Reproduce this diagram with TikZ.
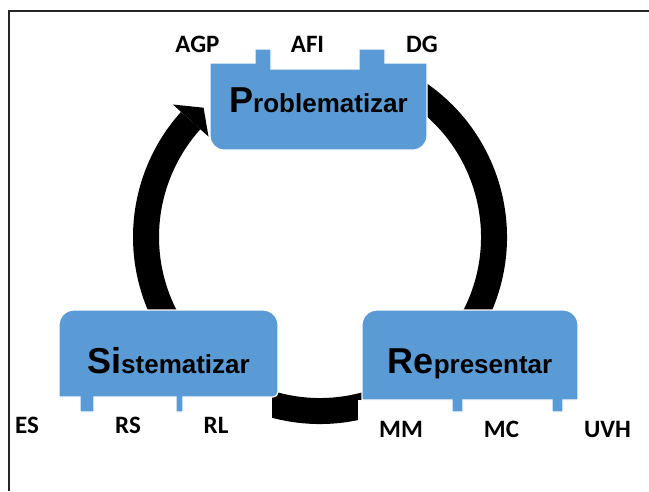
\documentclass[tikz,border=0pt]{standalone}
\usepackage{fontspec}
\setmainfont{Liberation Sans}
\newfontfamily\labelfont{Carlito}
\usetikzlibrary{calc}
\definecolor{boxblue}{RGB}{91,155,213}
\tikzset{
  stagebox/.style={fill=boxblue, draw=white, line width=1.2pt},
  stagetext/.style={anchor=base, inner sep=0pt, font=\bfseries},
  tablabel/.style={anchor=base, inner sep=0pt, font=\labelfont\bfseries\fontsize{25}{25}\selectfont},
  ring/.style={line width=26pt, line cap=butt}
}
\newcommand{\bigpart}[1]{{\fontsize{36}{36}\selectfont #1}}
\newcommand{\smallpart}[1]{{\fontsize{26}{26}\selectfont #1}}
\begin{document}
\begin{tikzpicture}[x=1pt, y=-1pt]
\useasboundingbox (0,0) rectangle (649,491);

% frame
\draw[line width=1.5pt, black!85] (9,491) -- (9,11) -- (649,11);

% cycle ring with arrow head
\coordinate (c) at (320,237);
\draw[ring] ($(c)+(-62:174)$) arc[start angle=-62, end angle=222, radius=174];
\fill ($(c)+(-138:198)$) -- ($(c)+(-132:174)$) -- ($(c)+(-138:150)$) -- cycle;

% white label strips under the lower stages
\fill[white] (10,397) rectangle (272,455);
\fill[white] (358,400) rectangle (649,455);

% Problematizar
\draw[stagebox] (210,63) -- (255,63) -- (255,49) -- (271,49) -- (271,69) -- (359,69)
  -- (359,49) -- (385,49) -- (385,63) -- (427,63) -- (427,136)
  arc[start angle=0, end angle=90, radius=14] -- (224,150)
  arc[start angle=90, end angle=180, radius=14] -- cycle;
\node[stagetext] (prob) at (318.5,112) {\bigpart{P}\smallpart{roblematizar}};

% Sistematizar
\draw[stagebox] (59,397) -- (59,325) arc[start angle=180, end angle=270, radius=15]
  -- (263,310) arc[start angle=270, end angle=360, radius=15]
  -- (278,392) arc[start angle=0, end angle=90, radius=5]
  -- (183,397) -- (183,412) -- (176,412) -- (176,397)
  -- (94,397) -- (94,412) -- (80,412) -- (80,397) -- cycle;
\node[stagetext] (sist) at (168.5,373) {\bigpart{Si}\smallpart{stematizar}};

% Representar
\draw[stagebox] (362,400) -- (362,325) arc[start angle=180, end angle=270, radius=15]
  -- (563,310) arc[start angle=270, end angle=360, radius=15]
  -- (578,400) -- (563,400) -- (563,412) -- (552,412) -- (552,400)
  -- (463,400) -- (463,412) -- (452,412) -- (452,400) -- cycle;
\node[stagetext] (repr) at (470,373) {\bigpart{Re}\smallpart{presentar}};

% tab labels
\node[tablabel] (agp) at (197.5,52.5) {AGP};
\node[tablabel] (afi) at (307.5,52.5) {AFI};
\node[tablabel] (dg)  at (422,52.5)   {DG};
\node[tablabel] (es)  at (27,433)     {ES};
\node[tablabel] (rs)  at (128,433)    {RS};
\node[tablabel] (rl)  at (216,433)    {RL};
\node[tablabel] (mm)  at (401,437)    {MM};
\node[tablabel] (mc)  at (501.5,437)  {MC};
\node[tablabel] (uvh) at (607.5,437)  {UVH};
\end{tikzpicture}
\end{document}
